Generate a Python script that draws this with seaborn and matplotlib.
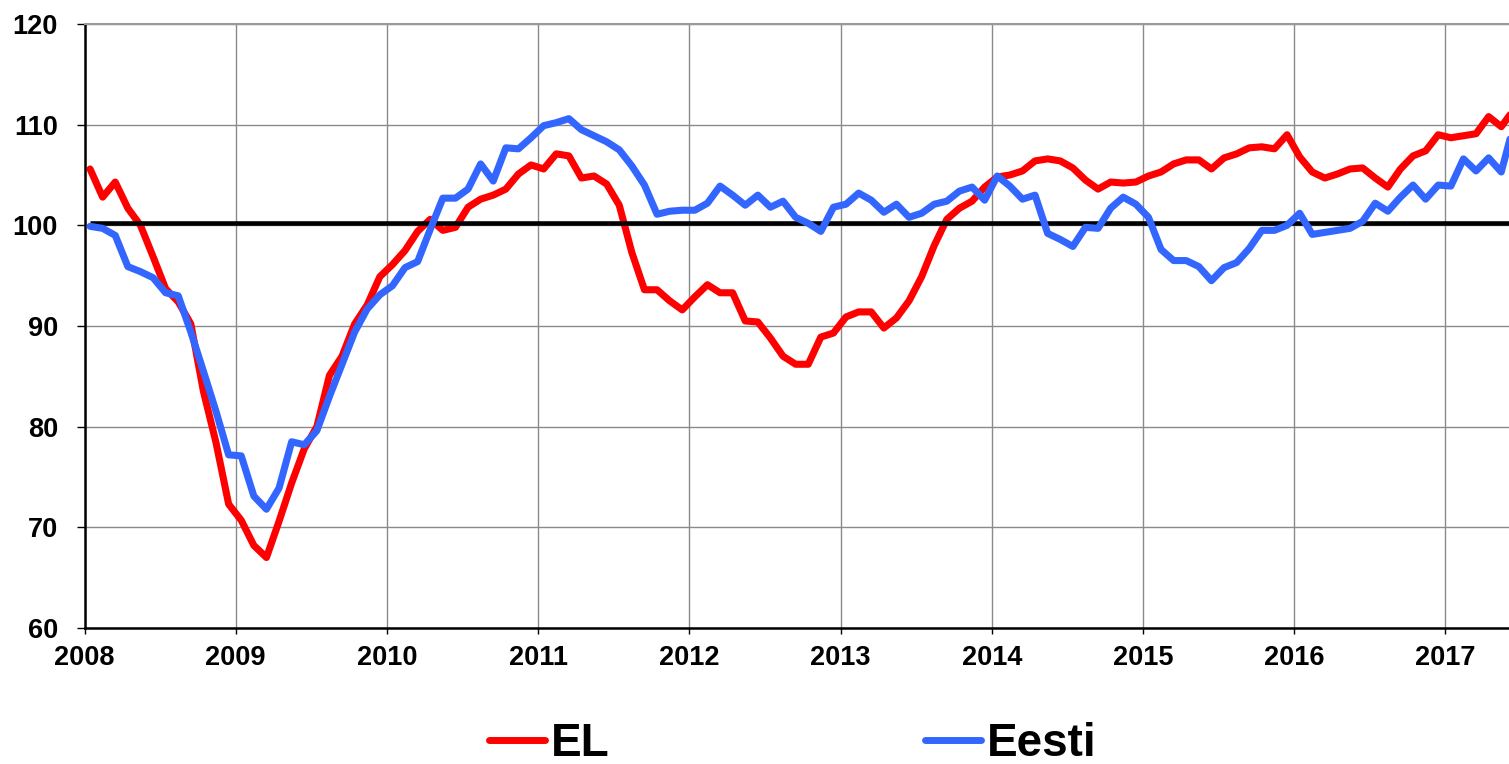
import numpy as np
import pandas as pd
import matplotlib
matplotlib.use("Agg")
import matplotlib.pyplot as plt
from matplotlib.lines import Line2D
import seaborn as sns

# ---- data (monthly, Jan 2008 onward) ----
EL = [105.6, 102.8, 104.3, 101.7, 100.0, 96.9, 93.7, 92.4, 90.2, 83.5,
      78.4, 72.3, 70.7, 68.2, 67.0, 70.6, 74.4, 77.8, 80.0, 85.1,
      87.0, 90.2, 92.1, 94.9, 96.1, 97.5, 99.4, 100.6, 99.5, 99.8,
      101.8, 102.6, 103.0, 103.6, 105.1, 106.0, 105.6, 107.1, 106.9, 104.7,
      104.9, 104.1, 102.0, 97.3, 93.6, 93.6, 92.5, 91.6, 92.9, 94.1,
      93.3, 93.3, 90.5, 90.4, 88.8, 87.0, 86.2, 86.2, 88.9, 89.3,
      90.9, 91.4, 91.4, 89.8, 90.8, 92.5, 94.9, 98.0, 100.6, 101.7,
      102.4, 103.8, 104.8, 105.0, 105.4, 106.4, 106.6, 106.4, 105.7, 104.5,
      103.6, 104.3, 104.2, 104.3, 104.9, 105.3, 106.1, 106.5, 106.5, 105.6,
      106.7, 107.1, 107.7, 107.8, 107.6, 109.0, 106.8, 105.3, 104.7, 105.1,
      105.6, 105.7, 104.7, 103.8, 105.6, 106.9, 107.4, 109.0, 108.7, 108.9,
      109.1, 110.8, 109.8, 111.5]

EESTI = [99.9, 99.7, 99.0, 95.9, 95.4, 94.8, 93.3, 93.0, 89.4, 85.5,
         81.5, 77.2, 77.1, 73.1, 71.8, 73.9, 78.5, 78.2, 79.6, 83.0,
         86.2, 89.4, 91.7, 93.1, 94.0, 95.8, 96.4, 99.6, 102.7, 102.7,
         103.6, 106.1, 104.4, 107.7, 107.6, 108.7, 109.9, 110.2, 110.6, 109.5,
         108.9, 108.3, 107.5, 105.9, 104.0, 101.1, 101.4, 101.5, 101.5, 102.2,
         103.9, 103.0, 102.0, 103.0, 101.8, 102.4, 100.8, 100.2, 99.4, 101.8,
         102.1, 103.2, 102.5, 101.3, 102.1, 100.8, 101.2, 102.1, 102.4, 103.4,
         103.8, 102.5, 104.9, 103.9, 102.6, 103.0, 99.2, 98.6, 97.9, 99.8,
         99.7, 101.7, 102.8, 102.1, 100.8, 97.6, 96.5, 96.5, 95.9, 94.5,
         95.8, 96.3, 97.7, 99.5, 99.5, 100.0, 101.2, 99.1, 99.3, 99.5,
         99.7, 100.4, 102.2, 101.4, 102.8, 104.0, 102.6, 104.0, 103.9, 106.6,
         105.4, 106.7, 105.3, 110.0]

BASELINE = 100.2
SERIES = ["EL", "Eesti"]
YEARS = list(range(2008, 2018))
YTICKS = [60, 70, 80, 90, 100, 110, 120]
START_YEAR = 2008

n = len(EL)
months = np.arange(n)
xpos = START_YEAR + (months + 0.44) / 12.0

df = pd.DataFrame({
    "x": np.concatenate([xpos, xpos]),
    "value": EL + EESTI,
    "series": [SERIES[0]] * n + [SERIES[1]] * n,
})

# ---- style ----
sns.set_theme(style="white")
plt.rcParams["font.family"] = ["Liberation Sans", "DejaVu Sans"]
plt.rcParams["font.weight"] = "bold"
plt.rcParams["text.color"] = "black"

colors = {"EL": "#FF0000", "Eesti": "#3366FF"}

W, H = 1509, 764
fig = plt.figure(figsize=(W / 100, H / 100), dpi=100)
ax = fig.add_axes([84.5 / W, 1 - 628 / H, 1 - 84.5 / W, (628 - 24) / H])

LW = 5.1
sns.lineplot(data=df[df.series == "EL"], x="x", y="value", color=colors["EL"],
             linewidth=LW, ax=ax, legend=False, sort=False)
ax.plot([xpos[0], xpos[-1]], [BASELINE, BASELINE], color="black",
        linewidth=3.3, solid_capstyle="butt", zorder=3)
sns.lineplot(data=df[df.series == "Eesti"], x="x", y="value", color=colors["Eesti"],
             linewidth=LW, ax=ax, legend=False, sort=False)
for ln in ax.get_lines():
    if ln.get_color() != "black":
        ln.set_solid_joinstyle("round")
        ln.set_solid_capstyle("round")
ax.lines[-1].set_zorder(4)

ax.set_xlim(2008, 2008 + (W - 84.5) / 151.2)
ax.set_ylim(60, 120)
ax.set_xticks(YEARS)
ax.set_xticklabels([str(y) for y in YEARS])
ax.set_yticks(YTICKS)
ax.set_yticklabels([str(v) for v in YTICKS])
ax.set_xlabel("")
ax.set_ylabel("")

ax.grid(True, color="#8a8a8a", linewidth=1.0)
ax.set_axisbelow(True)

ax.tick_params(axis="y", direction="out", length=6, width=1, pad=13,
               labelsize=19.5, colors="black", left=True)
ax.tick_params(axis="x", direction="out", length=4, width=1, pad=8,
               labelsize=19.5, colors="black", bottom=True)
for lab in ax.get_xticklabels() + ax.get_yticklabels():
    lab.set_fontweight("bold")

for side in ["left", "bottom"]:
    ax.spines[side].set_color("black")
    ax.spines[side].set_linewidth(1.8)
ax.spines["top"].set_color("#9a9a9a")
ax.spines["top"].set_linewidth(1.5)
ax.spines["right"].set_visible(False)

handles = [Line2D([], [], color=colors[s], linewidth=5, solid_capstyle="round")
           for s in SERIES]
fig.legend(handles, SERIES, loc="center left",
           bbox_to_anchor=(489 / W, 1 - 744 / H), ncol=2, frameon=False,
           prop={"size": 33, "weight": "bold"}, labelcolor="black",
           handlelength=1.22, handletextpad=0.12, columnspacing=6.9,
           borderpad=0, borderaxespad=0)

fig.savefig("out.png", dpi=100)
